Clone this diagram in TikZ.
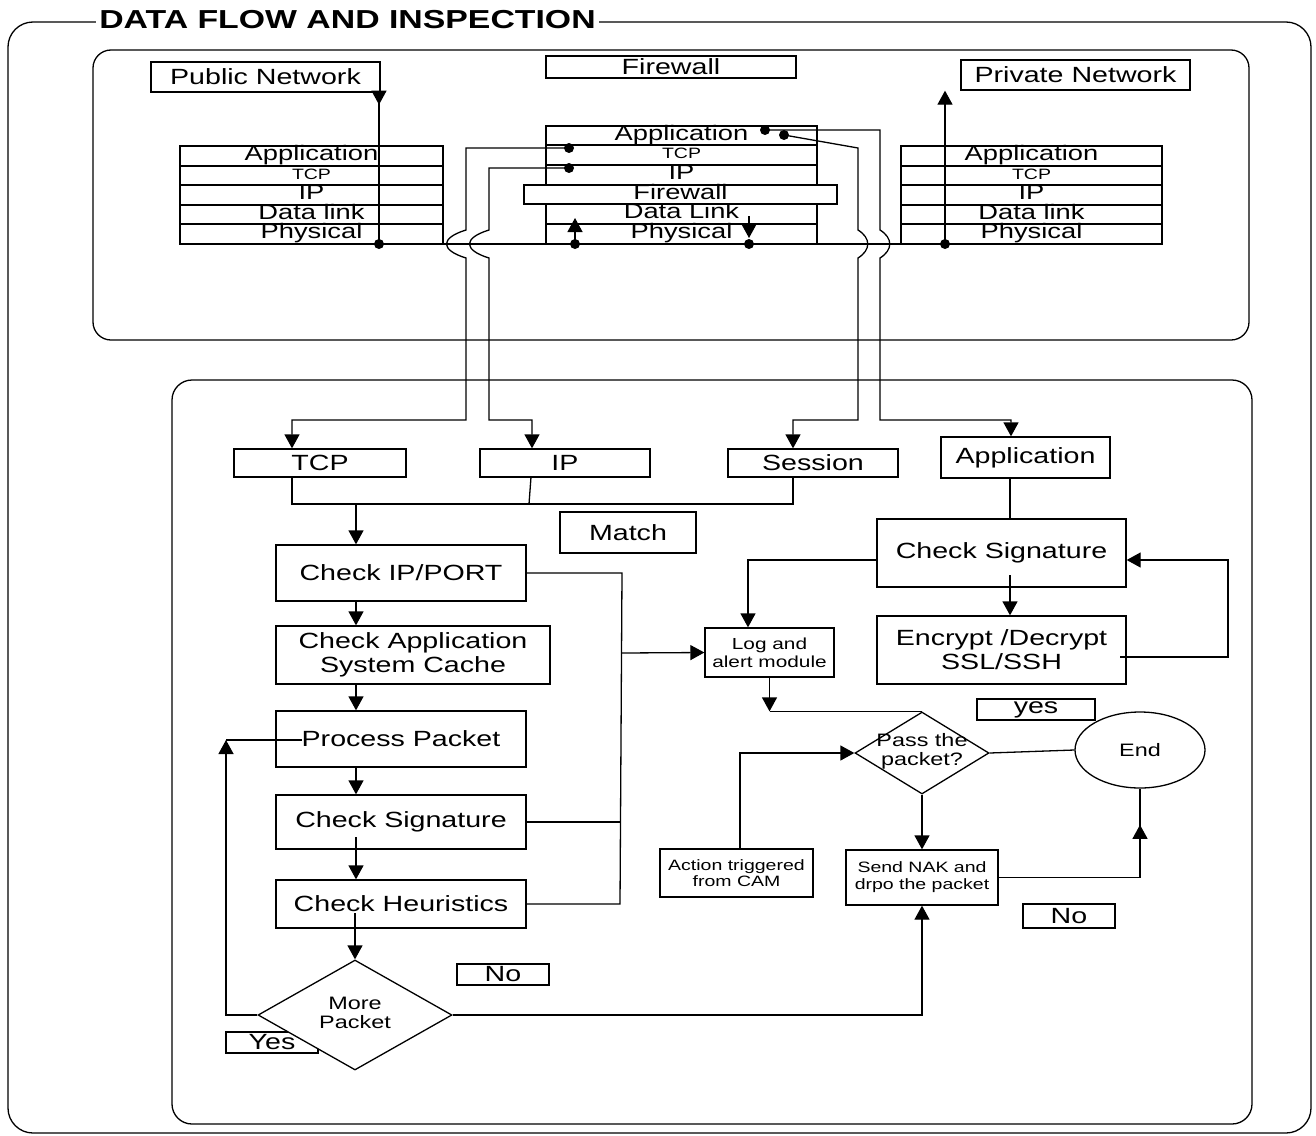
\documentclass[tikz,border=0pt]{standalone}
\usepackage{fontspec}
\newfontfamily\wf{Liberation Sans}[FakeStretch=1.3]
\usetikzlibrary{arrows.meta,shapes.geometric,decorations.markings,calc}
\begin{document}
\begin{tikzpicture}[x=1pt,y=-1pt,line width=1.3pt,
  box/.style={draw,rectangle,fill=white,inner sep=0pt,align=center,font=\wf\fontsize{22}{24}\selectfont},
  row/.style={draw,rectangle,inner sep=0pt,text height=13pt,text depth=4pt,font=\wf\fontsize{21}{21}\selectfont},
  smallrow/.style={font=\wf\fontsize{15}{15}\selectfont,text height=10pt,text depth=3pt},
  txt/.style={inner sep=0pt,align=center},
  arr/.style={-{Triangle[length=14pt,width=15pt]}},
  midarr/.style={postaction={decorate},decoration={markings,mark=at position #1 with {\arrow{Triangle[length=14pt,width=15pt]}}}}
]
\useasboundingbox (0,0) rectangle (1316,1135);
\fill[white] (0,0) rectangle (1316,1135);

% frames
\draw[rounded corners=25pt] (8,22) rectangle (1311,1133);
\node[fill=white,inner xsep=3pt,inner ysep=1pt,font=\wf\bfseries\fontsize{26}{26}\selectfont] (title) at (347.5,20) {DATA FLOW AND INSPECTION};
\draw[rounded corners=18pt] (93,50) rectangle (1249,340);
\draw[rounded corners=20pt] (172,380) rectangle (1252,1124);

% top labels
\node[box,minimum width=229pt,minimum height=30pt] (pub) at (265.5,77) {Public Network};
\node[box,minimum width=250pt,minimum height=22pt] (fwt) at (671,67) {Firewall};
\node[box,minimum width=229pt,minimum height=30pt] (priv) at (1075.5,75) {Private Network};

% left stack
\node[row,minimum width=263pt,minimum height=20pt] (lapp) at (311.5,156) {Application};
\node[row,smallrow,minimum width=263pt,minimum height=19pt] (ltcp) at (311.5,175.5) {TCP};
\node[row,minimum width=263pt,minimum height=20pt] (lip) at (311.5,195) {IP};
\node[row,minimum width=263pt,minimum height=19pt] (ldl) at (311.5,214.5) {Data link};
\node[row,minimum width=263pt,minimum height=20pt] (lph) at (311.5,234) {Physical};

% middle stack
\node[row,minimum width=271pt,minimum height=19pt] (mapp) at (681.5,135.5) {Application};
\node[row,smallrow,minimum width=271pt,minimum height=20pt] (mtcp) at (681.5,155) {TCP};
\node[row,minimum width=271pt,minimum height=20pt] (mip) at (681.5,175) {IP};
\node[row,minimum width=271pt,minimum height=20pt] (mdl) at (681.5,214) {Data Link};
\node[row,minimum width=271pt,minimum height=20pt] (mph) at (681.5,234) {Physical};
\node[row,fill=white,minimum width=313pt,minimum height=19pt] (mfw) at (680.5,194.5) {Firewall};

% right stack
\node[row,minimum width=261pt,minimum height=20pt] (rapp) at (1031.5,156) {Application};
\node[row,smallrow,minimum width=261pt,minimum height=19pt] (rtcp) at (1031.5,175.5) {TCP};
\node[row,minimum width=261pt,minimum height=20pt] (rip) at (1031.5,195) {IP};
\node[row,minimum width=261pt,minimum height=19pt] (rdl) at (1031.5,214.5) {Data link};
\node[row,minimum width=261pt,minimum height=20pt] (rph) at (1031.5,234) {Physical};

% top connectors
\coordinate (pdot) at (379,244);
\coordinate (fup) at (575,244);
\coordinate (fdn) at (749,244);
\coordinate (fdn0) at (749,216);
\coordinate (vdot) at (945,244);
\draw[midarr=12pt] (pub.south -| pdot) -- (pdot);
\draw (pdot) -- (vdot);
\draw[arr] (fup) -- ++(0,-26);
\draw[arr] (fdn0) -- ($(fdn)+(0,-6)$);
\draw[arr] (vdot) -- (vdot |- priv.south);
\foreach \p in {pdot,fup,fdn,vdot} \fill (\p) circle (5pt);

% middle stack to bottom section
\coordinate (dtcp) at (569,148);
\coordinate (dip) at (569,168);
\coordinate (da1) at (765,130);
\coordinate (da2) at (784,135);
\foreach \p in {dtcp,dip,da1,da2} \fill (\p) circle (5pt);

% bottom boxes
\node[box,minimum width=172pt,minimum height=28pt] (tcpb) at (320,463) {TCP};
\node[box,minimum width=170pt,minimum height=28pt] (ipb) at (565,463) {IP};
\node[box,minimum width=170pt,minimum height=28pt] (sesb) at (813,463) {Session};
\node[box,minimum width=169pt,minimum height=41pt] (appb) at (1025.5,457.5) {Application};
\node[box,minimum width=136pt,minimum height=41pt] (match) at (628,532.5) {Match};

\coordinate (xt) at (292,420);
\coordinate (xi) at (532,420);
\coordinate (xs) at (793,420);
\coordinate (xa) at (1011,420);
\draw[arr] (dtcp) -- (466,148) -- (466,230) .. controls (440,238) and (440,250) .. (466,258) -- (466,420) -- (xt) -- (tcpb.north -| xt);
\draw[arr] (dip) -- (489,168) -- (489,230) .. controls (463,238) and (463,250) .. (489,258) -- (489,420) -- (xi) -- (ipb.north -| xi);
\draw[arr] (da2) -- (858,148) -- (858,230) .. controls (871,238) and (871,250) .. (858,258) -- (858,420) -- (xs) -- (sesb.north -| xs);
\draw[arr] (da1) -- (880,130) -- (880,230) .. controls (893,238) and (893,250) .. (880,258) -- (880,420) -- (xa) -- (appb.north -| xa);

% left column
\node[box,minimum width=250pt,minimum height=56pt] (cipp) at (401,573) {Check IP/PORT};
\node[box,minimum width=274pt,minimum height=58pt] (cache) at (413,655) {Check Application\\System Cache};
\node[box,minimum width=250pt,minimum height=56pt] (proc) at (401,739) {Process Packet};
\node[box,minimum width=250pt,minimum height=54pt] (csig) at (401,822) {Check Signature};
\node[box,minimum width=250pt,minimum height=48pt] (cheu) at (401,904) {Check Heuristics};
\node[box,minimum width=92pt,minimum height=21pt] (yesl) at (272,1042.5) {Yes};
\node[box,minimum width=92pt,minimum height=21pt] (nol) at (503,974.5) {No};
\node[draw,diamond,fill=white,inner sep=0pt,minimum width=194pt,minimum height=110pt] (more) at (355,1015) {};
\node[txt,font=\wf\fontsize{18}{19}\selectfont] (moret) at (355,1013) {More\\Packet};

% join of TCP/IP/Session
\coordinate (ja) at (292,504);
\coordinate (jc) at (793,504);
\coordinate (jm) at (356,504);
\coordinate (ji) at (529,504);
\draw (tcpb.south -| ja) -- (ja) -- (jc) -- (sesb.south -| jc);
\draw (531,477) -- (ji);
\draw[arr] (jm) -- (cipp.north -| jm);
\draw[arr] (cipp.south -| jm) -- (cache.north -| jm);
\draw[arr] (cache.south -| jm) -- (proc.north -| jm);
\draw[arr] (proc.south -| jm) -- (csig.north -| jm);
\coordinate (cs0) at (356,837);
\draw[arr] (cs0) -- (cheu.north -| cs0);
\coordinate (ch0) at (355,913);
\draw[arr] (ch0) -- (more.north);

% right side boxes
\node[box,minimum width=249pt,minimum height=68pt] (csr) at (1001.5,553) {Check Signature};
\node[box,minimum width=249pt,minimum height=68pt] (enc) at (1001.5,650) {Encrypt /Decrypt\\SSL/SSH};
\node[box,minimum width=129pt,minimum height=49pt,font=\wf\fontsize{16}{18}\selectfont] (logm) at (769.5,652.5) {Log and\\alert module};
\node[box,minimum width=118pt,minimum height=21pt] (yesr) at (1036,709.5) {yes};
\node[box,minimum width=92pt,minimum height=24pt] (nor) at (1069,916) {No};
\node[draw,diamond,fill=white,inner sep=0pt,minimum width=134pt,minimum height=82pt] (pass) at (922,753) {};
\node[txt,font=\wf\fontsize{18}{19}\selectfont] (passt) at (922,751) {Pass the\\packet?};
\node[draw,ellipse,inner sep=0pt,minimum width=130pt,minimum height=76pt,font=\wf\fontsize{18}{19}\selectfont] (endn) at (1140,750) {End};
\node[box,minimum width=153pt,minimum height=48pt,font=\wf\fontsize{15}{16}\selectfont] (cam) at (736.5,873) {Action triggered\\from CAM};
\node[box,minimum width=152pt,minimum height=55pt,font=\wf\fontsize{15}{17}\selectfont] (send) at (922,877.5) {Send NAK and\\drpo the packet};

% bus to log module
\coordinate (b1) at (622,573);
\coordinate (b2) at (622,653);
\coordinate (b3) at (620,904);
\draw (cipp.east) -- (b1) -- (b3) -- (cheu.east);
\draw (csig.east) -- (621,822);
\draw[arr] (b2) -- (logm.west);

% application side
\coordinate (x1) at (1010,0);
\draw (appb.south -| x1) -- (csr.north -| x1);
\coordinate (cs1) at (1010,575);
\draw[arr] (cs1) -- (enc.north -| cs1);
\coordinate (lp0) at (1120,657);
\coordinate (lp1) at (1228,657);
\coordinate (lp2) at (1228,560);
\draw[arr] (lp0) -- (lp1) -- (lp2) -- (csr.east |- lp2);
\coordinate (x748) at (748,0);
\draw[arr] (csr.west |- lp2) -| (logm.north -| x748);

% decision area
\coordinate (lc) at (logm.south |- pass.north);
\draw[arr] (logm.south) -- (lc);
\draw (lc) -- (pass.north);
\coordinate (camx) at (740,0);
\draw[arr] (cam.north -| camx) |- (pass.west);
\draw[arr] (pass.south) -- (send.north);
\draw (pass.east) -- (endn.west);
\draw[midarr=194pt] (send.east) -| (endn.south);
\draw[arr] (more.east) -| (send.south);
\coordinate (yc) at (226,740);
\coordinate (ppin) at (302,740);
\draw[arr] (more.west) -| (yc);
\draw (yc) -- (ppin);
\end{tikzpicture}
\end{document}
